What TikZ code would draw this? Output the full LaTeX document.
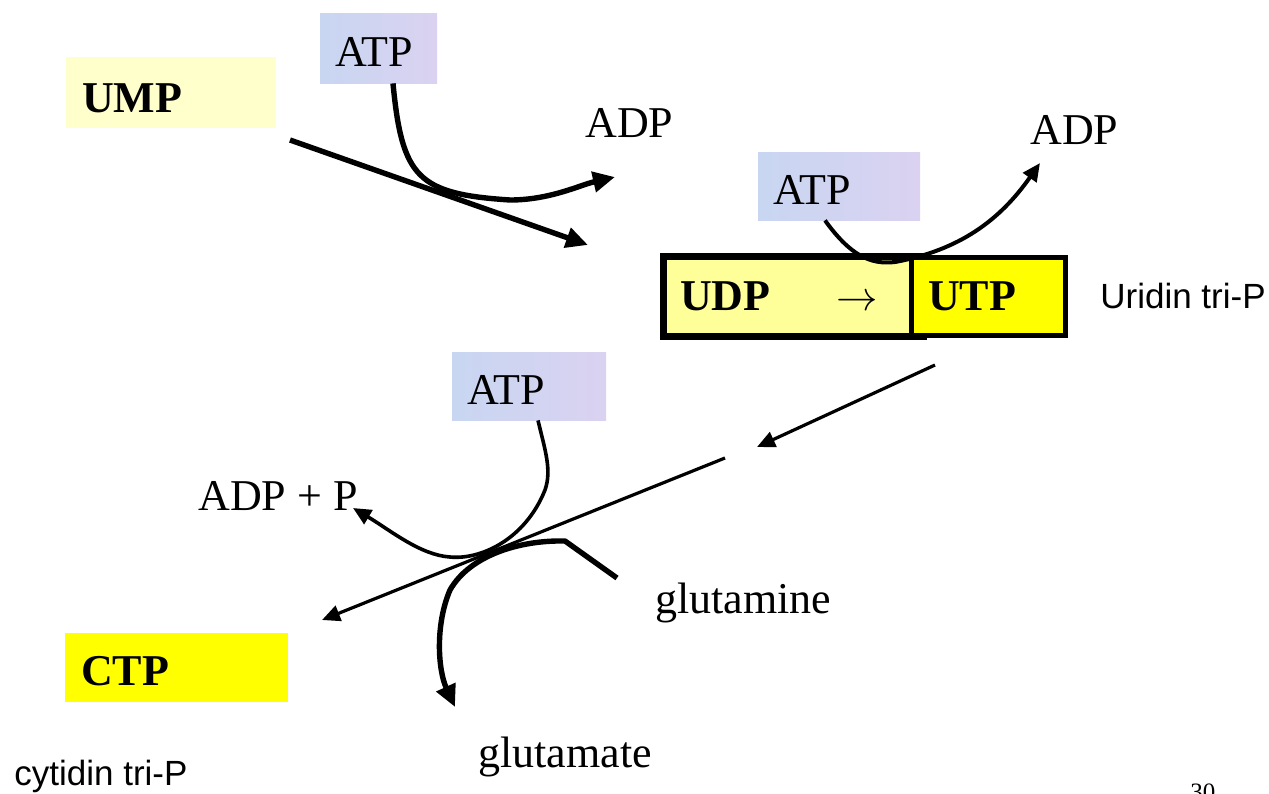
\documentclass[tikz,border=0pt]{standalone}
\usepackage{fontspec}
\setmainfont{Liberation Serif}
\setsansfont{Liberation Sans}
\usetikzlibrary{arrows.meta,positioning}

\definecolor{paleyellow}{HTML}{FFFFCC}
\definecolor{udpyellow}{HTML}{FFFF99}
\definecolor{ctpyellow}{HTML}{FFFF00}
\definecolor{atpblue}{HTML}{C8D6F2}
\definecolor{atplilac}{HTML}{DAD2F0}

\tikzset{
  serif label/.style={font=\fontsize{22}{26}\selectfont, inner sep=0pt},
  sans label/.style={font=\sffamily\fontsize{17.5}{21}\selectfont, inner sep=0pt},
  atp box/.style={left color=atpblue, right color=atplilac, font=\fontsize{22}{26}\selectfont,
    inner xsep=7.5pt, inner ysep=0pt, align=left, minimum height=34pt, text height=18pt, text depth=0pt},
  metabolite/.style={font=\fontsize{22}{26}\selectfont\bfseries, inner xsep=8pt, inner ysep=0pt,
    align=left},
  heavy arrow/.style={line width=2.7pt, -{Triangle[length=11pt,width=10pt]}},
  light arrow/.style={line width=1.6pt, -{Triangle[length=9pt,width=8pt]}}
}

\begin{document}
\begin{tikzpicture}[x=0.5pt,y=-0.5pt]

\useasboundingbox (0,0) rectangle (1269,793);
\clip (0,0) rectangle (1269,793);

% Boxes
\node[metabolite, fill=paleyellow, text width=89pt, minimum height=35.5pt,
  text height=20pt, text depth=0pt] (ump) at (171,92.5) {UMP};
\node[atp box, text width=43.5pt, minimum height=35pt] (atp1) at (378.5,48) {ATP};
\node[atp box, text width=66pt] (atp2) at (839,186) {ATP};
\node[atp box, text width=62pt] (atp3) at (529,386) {ATP};
\node[metabolite, draw, line width=3.5pt, fill=udpyellow, text width=113.5pt,
  inner xsep=8.25pt, minimum height=40pt] (udp) at (793.5,296.5) {UDP\hspace{33pt}$\rightarrow$};
\node[metabolite, draw, line width=2.5pt, fill=ctpyellow, text width=60.5pt,
  inner xsep=8.25pt, minimum height=39pt] (utp) at (988.5,296.5) {UTP};
\node[metabolite, fill=ctpyellow, text width=95.5pt, minimum height=34.5pt,
  text height=17.5pt, text depth=0pt] (ctp) at (176.5,667.5) {CTP};

% Labels
\node[serif label, anchor=base west] (adp1) at (585,137) {ADP};
\node[serif label, anchor=base west] (adp2) at (1030,144) {ADP};
\node[serif label, anchor=base west] (adpp) at (198,510) {ADP + P};
\node[serif label, anchor=base west] (gln) at (655,613) {glutamine};
\node[serif label, anchor=base west] (glu) at (478,767) {glutamate};
\node[sans label, anchor=base west] (utpname) at (1100,308) {Uridin tri-P};
\node[sans label, anchor=base west] (ctpname) at (14,785) {cytidin tri-P};
\node[font=\fontsize{12.5}{15}\selectfont, inner sep=0pt, anchor=base west] (page) at (1190,800) {30};

% Reaction end points
\coordinate (umpstart) at (290,140);
\coordinate (umpend) at (588,245);
\coordinate (atp1turn) at (510,200);
\coordinate (adp1end) at (615,177);
\coordinate (atp2low) at (895,262);
\coordinate (adp2end) at (1040,163);
\coordinate (utpstart) at (935,365);
\coordinate (utpend) at (757,447);
\coordinate (ctpstart) at (725,458);
\coordinate (ctpend) at (322,620);
\coordinate (atp3turn) at (545,490);
\coordinate (atp3low) at (450,557);
\coordinate (adppend) at (353,508);
\coordinate (glnstart) at (617,578);
\coordinate (glncorner) at (565,541);
\coordinate (glnturn) at (450,590);
\coordinate (gluend) at (455,707);

% UMP -> UDP
\draw[heavy arrow] (umpstart) -- (umpend);
\draw[heavy arrow] ([xshift=7.25pt]atp1.south) .. controls (402,178) and (418,194) .. (atp1turn)
  .. controls (550,200) and (580,185) .. (adp1end);

% UDP -> UTP
\draw[light arrow, line width=2pt] ([xshift=-7pt]atp2.south) .. controls (850,255) and (870,265) .. (atp2low)
  .. controls (960,250) and (1000,220) .. (adp2end);

% UTP -> CTP
\draw[light arrow] (utpstart) -- (utpend);
\draw[light arrow] (ctpstart) -- (ctpend);
\draw[light arrow, line width=1.8pt] ([xshift=4.5pt]atp3.south) .. controls (545,450) and (552,470) .. (atp3turn)
  .. controls (525,540) and (480,560) .. (atp3low)
  .. controls (420,555) and (390,530) .. (adppend);
\draw[heavy arrow, line join=round] (glnstart) -- (glncorner) .. controls (520,540) and (470,555) .. (glnturn)
  .. controls (435,625) and (438,670) .. (gluend);

\end{tikzpicture}
\end{document}
